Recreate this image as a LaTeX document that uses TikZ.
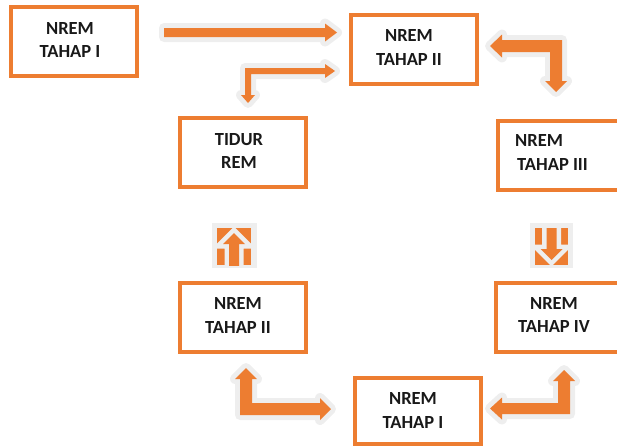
\documentclass[tikz,border=0pt]{standalone}
\usepackage{fontspec}
\setmainfont{Carlito}
\definecolor{org}{HTML}{ED7D31}
\definecolor{halo}{HTML}{EEEEEE}
\begin{document}
\begin{tikzpicture}[x=1pt,y=-1pt,
  box/.style={draw=org, line width=4pt, minimum width=126pt, minimum height=69pt, inner sep=0pt},
  txt/.style={align=center, inner sep=0pt, font=\fontsize{18.5}{23.5}\selectfont\bfseries, text=black!90},
  haloline/.style={draw=halo, line width=10pt, line join=round, fill=halo},
  blk/.style={fill=org},
  icongap/.style={draw=halo, line width=9pt, line join=miter}]
\useasboundingbox (0,0) rectangle (617,445);
\clip (0,0) rectangle (617,445);

% boxes
\node[box] (A) at (73.5,41.5) {};
\node[box] (B) at (414,49) {};
\node[box] (C) at (561,155) {};
\node[box] (D) at (242.5,152.5) {};
\node[box] (E) at (242.5,317) {};
\node[box] (F) at (559,317.5) {};
\node[box, minimum height=66pt] (G) at (417.5,411) {};

% texts
\node[txt] (tA) at (70,40) {NREM\\TAHAP I};
\node[txt] (tB) at (409,47.5) {NREM\\TAHAP II};
\node[txt, align=left, anchor=west] (tC) at (515,152.5) {NREM\\\hspace*{2pt}TAHAP III};
\node[txt] (tD) at (239,151) {TIDUR\\REM};
\node[txt] (tE) at (238,315.5) {NREM\\TAHAP II};
\node[txt] (tF) at (554,315) {NREM\\TAHAP IV};
\node[txt] (tG) at (413,410.5) {NREM\\TAHAP I};

% arrow A -> B
\def\arrA{(164,28)--(325,28)--(325,23.5)--(337,32.5)--(325,41.5)--(325,37)--(164,37)--cycle}
\path[haloline] \arrA; \path[blk] \arrA;
% arrow B -> D (elbow, two heads)
\def\arrB{(245,68)--(325,68)--(325,64)--(335,71)--(325,78)--(325,74)--(251,74)--(251,95)--(255,95)--(248,103)--(241,95)--(245,95)--cycle}
\path[haloline] \arrB; \path[blk] \arrB;
% arrow B <-> C
\def\arrC{(490,46)--(502,34.5)--(502,40)--(562,40)--(562,81)--(567,81)--(556,92)--(545,81)--(550,81)--(550,52)--(502,52)--(502,57.5)--cycle}
\path[haloline] \arrC; \path[blk] \arrC;
% arrow E <-> G
\def\arrE{(246,368)--(257,379)--(252,379)--(252,403)--(320,403)--(320,398)--(331,409)--(320,420)--(320,415)--(240,415)--(240,379)--(235,379)--cycle}
\path[haloline] \arrE; \path[blk] \arrE;
% arrow G <-> F
\def\arrF{(490,408.5)--(502,397.5)--(502,403)--(558,403)--(558,381)--(553,381)--(564,370)--(575,381)--(570,381)--(570,414)--(502,414)--(502,419.5)--cycle}
\path[haloline] \arrF; \path[blk] \arrF;

% up icon (E -> D)
\fill[halo] (212,223) rectangle (257,268);
\begin{scope}
  \clip (217,228) rectangle (251,265);
  \fill[org] (217,228) rectangle (251,265);
  \def\upA{(234,233)--(245,244)--(239,244)--(239,272)--(229,272)--(229,244)--(223,244)--cycle}
  \path[icongap] \upA; \path[blk] \upA;
\end{scope}
% down icon (C -> F)
\fill[halo] (530,223) rectangle (573,268);
\begin{scope}
  \clip (535,228) rectangle (568,265);
  \fill[org] (535,228) rectangle (568,265);
  \def\dnA{(551.5,260)--(562.5,249)--(556.5,249)--(556.5,221)--(546.5,221)--(546.5,249)--(540.5,249)--cycle}
  \path[icongap] \dnA; \path[blk] \dnA;
\end{scope}
\end{tikzpicture}
\end{document}
